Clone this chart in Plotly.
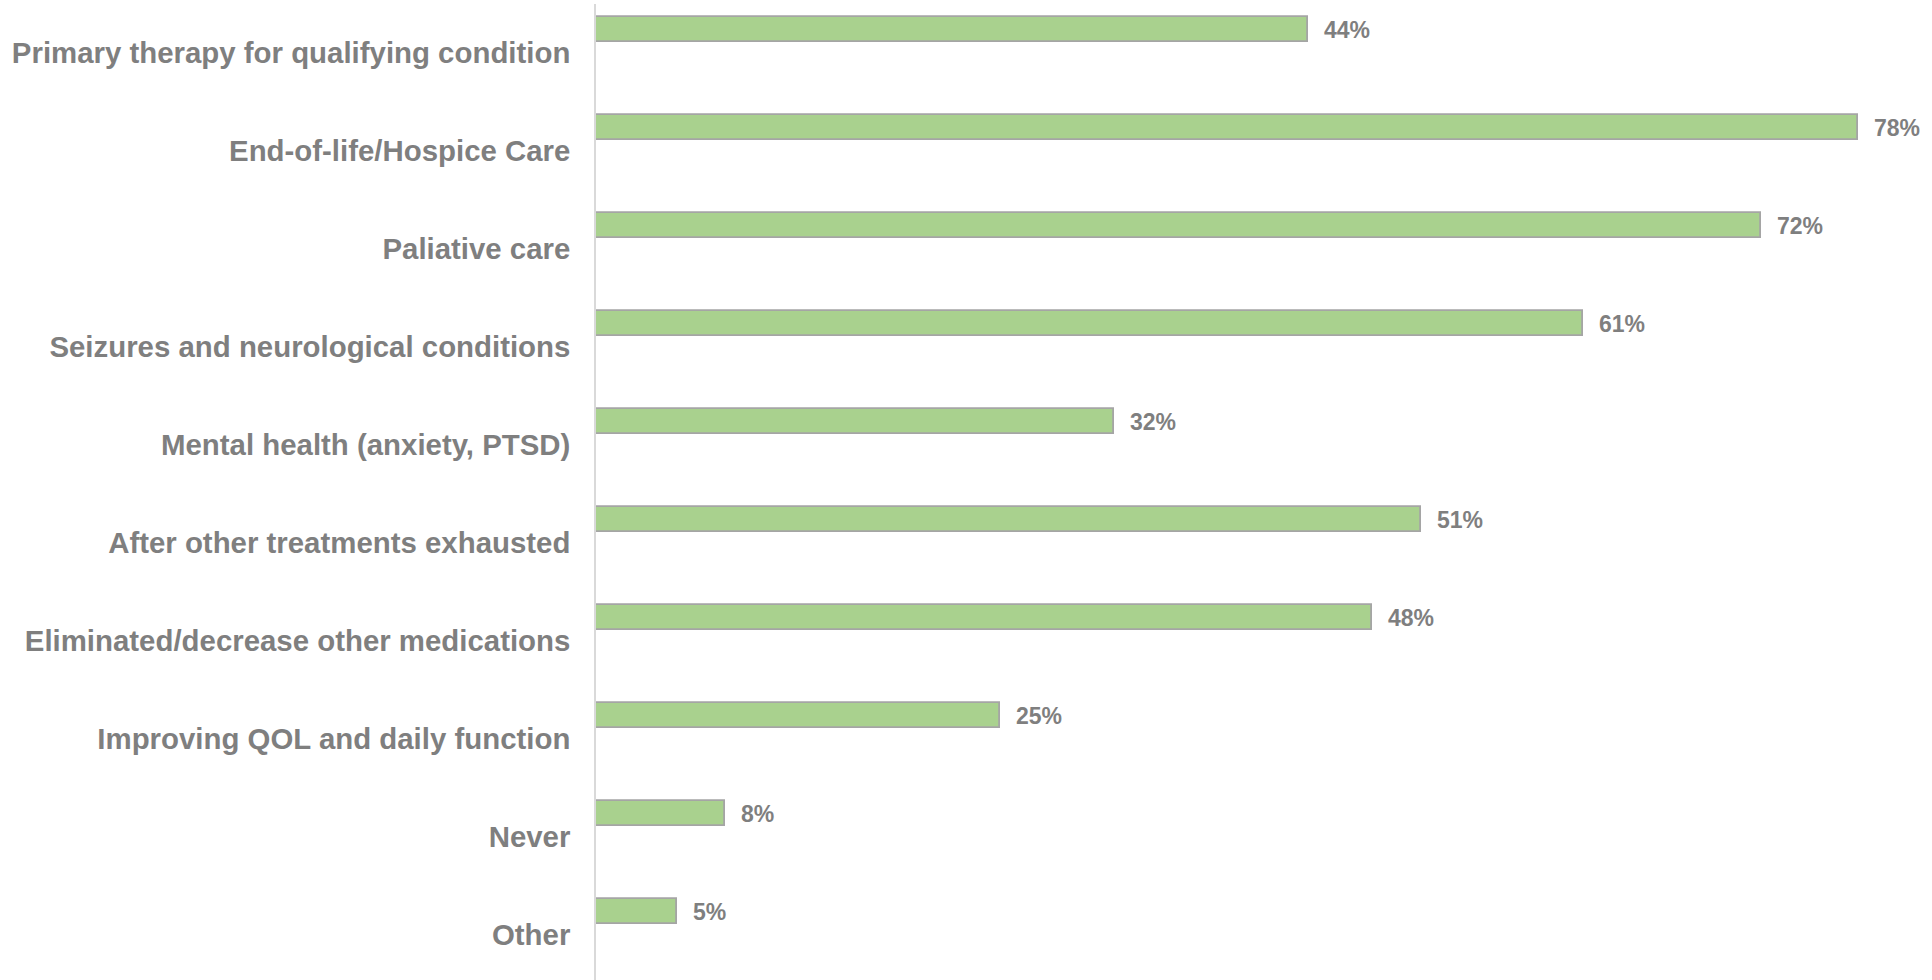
import plotly.graph_objects as go

# Survey responses: when is cannabis therapy recommended
categories = [
    "Primary therapy for qualifying condition",
    "End-of-life/Hospice Care",
    "Paliative care",
    "Seizures and neurological conditions",
    "Mental health (anxiety, PTSD)",
    "After other treatments exhausted",
    "Eliminated/decrease other medications",
    "Improving QOL and daily function",
    "Never",
    "Other",
]
percent = [44, 78, 72, 61, 32, 51, 48, 25, 8, 5]
value_labels = [f"{v}%" for v in percent]

TEXT_GREY = "#7F7F7F"
FONT = "Arial, Liberation Sans, sans-serif"

fig = go.Figure()

fig.add_trace(go.Bar(
    x=percent,
    y=categories,
    orientation="h",
    offset=-0.365,
    width=0.255,
    marker=dict(color="#A9D18E", line=dict(color="#A5A5A5", width=1.8)),
    hoverinfo="x+y",
))

# Value labels to the right of each bar, level with the bar
for cat, v, lab in zip(categories, percent, value_labels):
    fig.add_annotation(
        x=v, y=cat, xref="x", yref="y",
        text=lab, showarrow=False,
        xanchor="left", yanchor="middle",
        xshift=14, yshift=23,
        font=dict(family=FONT, size=23, color=TEXT_GREY, weight="bold"),
    )

fig.update_layout(
    width=1932,
    height=980,
    margin=dict(l=596, r=42, t=4, b=0),
    plot_bgcolor="white",
    paper_bgcolor="white",
    showlegend=False,
    bargap=0,
)

fig.update_xaxes(
    range=[0, 80],
    showgrid=False,
    zeroline=False,
    showticklabels=False,
    ticks="",
    showline=False,
    fixedrange=True,
)

fig.update_yaxes(
    type="category",
    categoryorder="array",
    categoryarray=categories,
    range=[9.459, -0.5],
    showgrid=False,
    zeroline=False,
    showline=True,
    linecolor="#D9D9D9",
    linewidth=1.5,
    ticks="",
    ticklabelstandoff=18,
    tickfont=dict(family=FONT, size=29.4, color=TEXT_GREY, weight="bold"),
    automargin=False,
    fixedrange=True,
)

fig.write_html("out.html")
